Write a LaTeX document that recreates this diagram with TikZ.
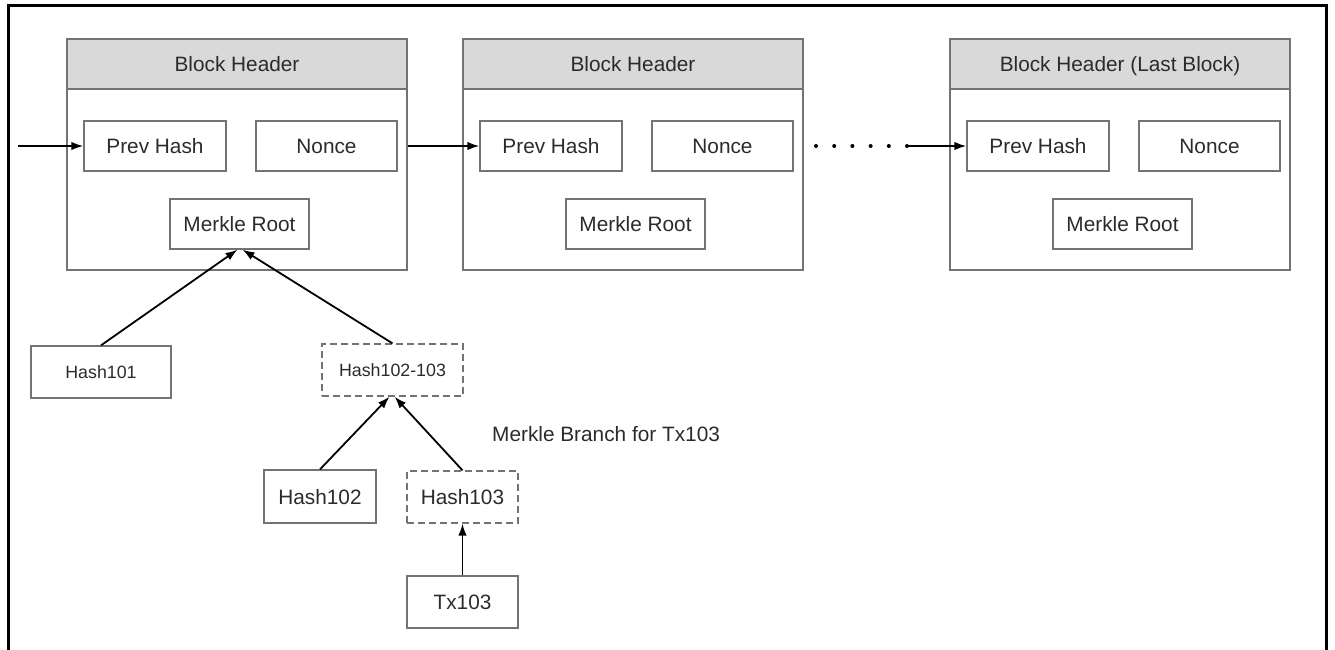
\documentclass[tikz,border=0pt]{standalone}
\usepackage{fontspec}
\setmainfont{Liberation Sans}
\usepackage{tikz}
\usetikzlibrary{arrows.meta}

\definecolor{linegray}{HTML}{737373}
\definecolor{headgray}{HTML}{D9D9D9}
\definecolor{textgray}{HTML}{2B2B2B}

\begin{document}
\begin{tikzpicture}[x=1pt,y=-1pt,
    font=\fontsize{20.8}{24}\selectfont,
    box/.style={draw=linegray, line width=1.3pt, text=textgray, inner sep=0pt, minimum height=50,
        text height=15pt, text depth=0pt},
    block/.style={box, minimum width=340, minimum height=231},
    header/.style={box, fill=headgray, minimum width=340},
    dashbox/.style={box, dash pattern=on 7pt off 4pt},
    small/.style={font=\fontsize{17.8}{21}\selectfont, text height=12.8pt},
    arr/.style={-{Latex[length=12pt,width=8.5pt]}, line width=1.8pt}]
\useasboundingbox (0,0) rectangle (1335,650);
\draw [line width=3pt] (8,650) -- (8,6) -- (1326,6) -- (1326,650);

% first block
\node[block] (blk1) at (237,154.5) {};
\node[header] (head1) at (237,64) {Block Header};
\node[box, minimum width=142] (prev1) at (155,146) {Prev Hash};
\node[box, minimum width=141] (nonce1) at (326.5,146) {Nonce};
\node[box, minimum width=139] (root1) at (239.5,224) {Merkle Root};

% second block
\node[block] (blk2) at (633,154.5) {};
\node[header] (head2) at (633,64) {Block Header};
\node[box, minimum width=142] (prev2) at (551,146) {Prev Hash};
\node[box, minimum width=141] (nonce2) at (722.5,146) {Nonce};
\node[box, minimum width=139] (root2) at (635.5,224) {Merkle Root};

% last block
\node[block] (blk3) at (1120,154.5) {};
\node[header] (head3) at (1120,64) {Block Header (Last Block)};
\node[box, minimum width=142] (prev3) at (1038,146) {Prev Hash};
\node[box, minimum width=141] (nonce3) at (1209.5,146) {Nonce};
\node[box, minimum width=139] (root3) at (1122.5,224) {Merkle Root};

% chain
\coordinate (start) at (18,146);
\coordinate (dots) at (816,146);
\coordinate (gap) at (907,146);
\draw[arr] (start) -- (prev1.west);
\draw[arr] (prev2.west -| blk1.east) -- (prev2.west);
\draw[line width=4pt, line cap=round, dash pattern=on 0pt off 18.2pt] (dots) -- (gap);
\draw[arr] (gap) -- (prev3.west);

% merkle branch
\node[box, small, minimum width=140, minimum height=52] (hash101) at (101,372) {Hash101};
\node[dashbox, small, minimum width=141, minimum height=52] (hash102103) at (392.5,370) {Hash102-103};
\node[box, minimum width=112, minimum height=53] (hash102) at (320,496.5) {Hash102};
\node[dashbox, minimum width=111, minimum height=52] (hash103) at (462.5,497) {Hash103};
\node[box, minimum width=111, minimum height=52] (tx103) at (462.5,602) {Tx103};
\node[text=textgray, anchor=base west, inner sep=0pt] (branch) at (492,441) {Merkle Branch for Tx103};

\draw[arr] (hash101.north) -- ([xshift=-2]root1.south);
\draw[arr] (hash102103.north) -- ([xshift=3]root1.south);
\draw[arr] (hash102.north) -- ([xshift=-3]hash102103.south);
\draw[arr] (hash103.north) -- ([xshift=2]hash102103.south);
\draw[arr] (tx103.north) -- (hash103.south);
\end{tikzpicture}
\end{document}
